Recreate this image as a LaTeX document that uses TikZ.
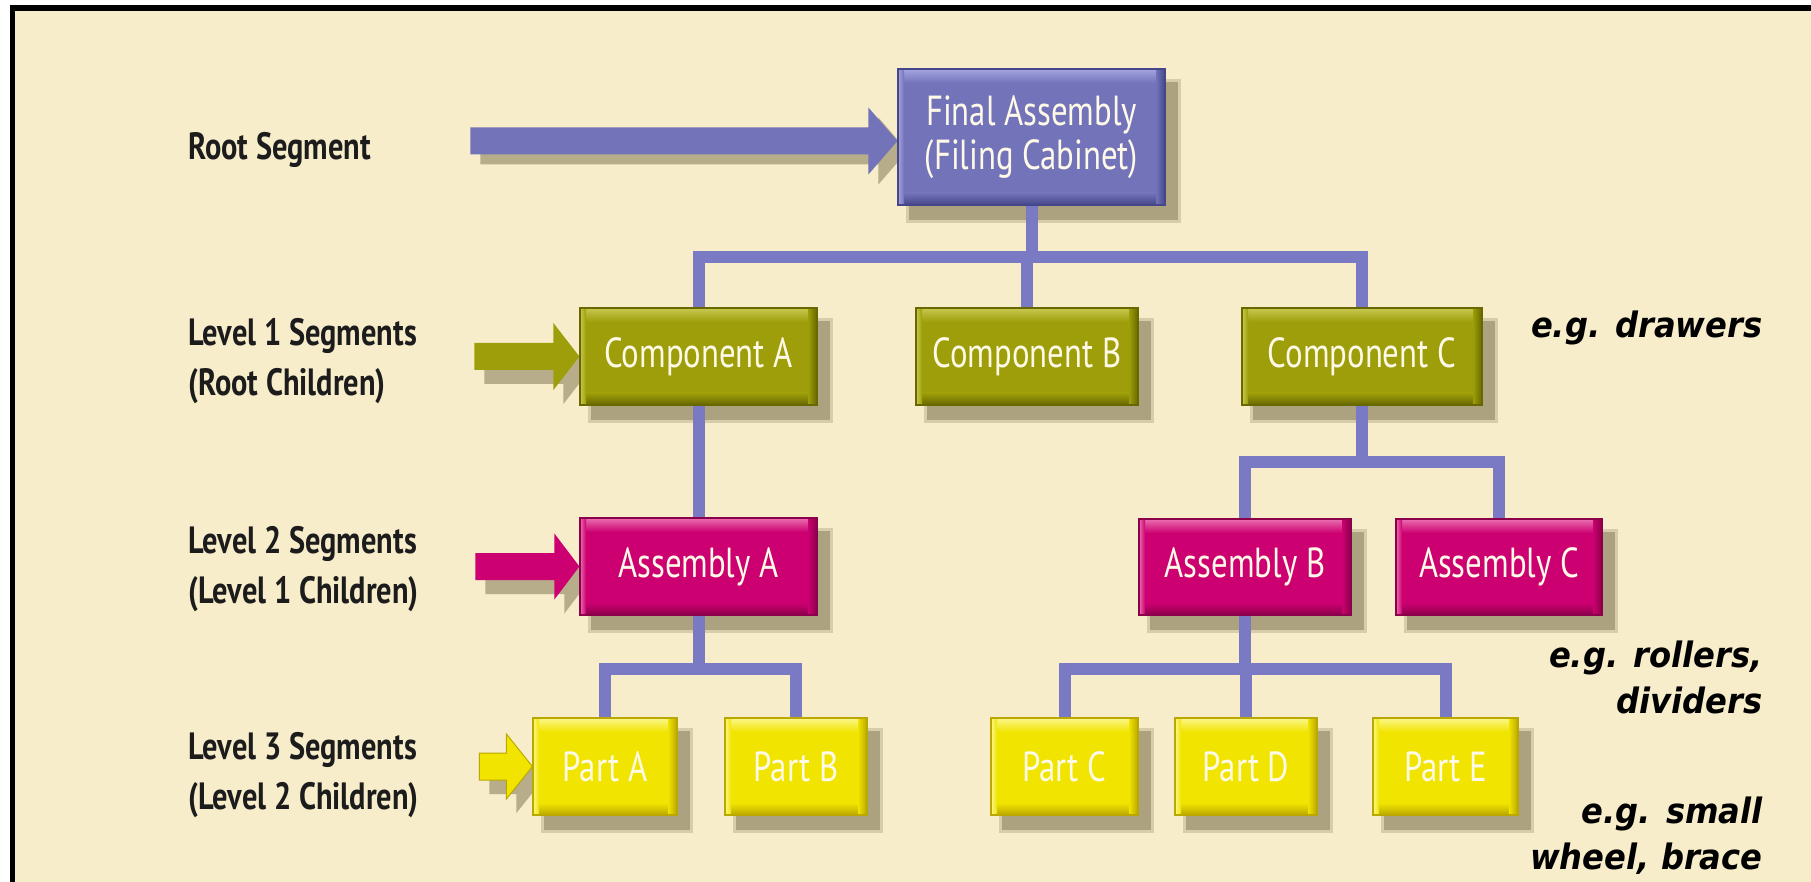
\documentclass[tikz,border=0pt]{standalone}
\usepackage{fontspec}
\usetikzlibrary{calc}
\newfontfamily\boxfont[FakeStretch=0.78]{PT Sans}
\newfontfamily\lblfont[FakeStretch=0.8]{PT Sans}
\newfontfamily\egfont[FakeStretch=0.92]{DejaVu Sans}

\definecolor{bgcream}{RGB}{247,237,203}
\definecolor{linkblue}{RGB}{122,122,196}
\definecolor{rootbase}{RGB}{115,115,186}
\definecolor{rootlight}{RGB}{165,165,224}
\definecolor{rootdark}{RGB}{70,70,138}
\definecolor{olivebase}{RGB}{158,158,10}
\definecolor{olivelight}{RGB}{200,200,80}
\definecolor{olivedark}{RGB}{104,104,0}
\definecolor{magbase}{RGB}{204,0,112}
\definecolor{maglight}{RGB}{234,110,176}
\definecolor{magdark}{RGB}{138,0,74}
\definecolor{yelbase}{RGB}{240,228,0}
\definecolor{yellight}{RGB}{252,247,140}
\definecolor{yeldark}{RGB}{186,168,0}
\definecolor{shadowcol}{RGB}{168,158,124}
\definecolor{boxtext}{RGB}{255,250,232}
\definecolor{labeltext}{RGB}{28,28,28}

\pgfdeclarelayer{shadow}
\pgfdeclarelayer{conn}
\pgfsetlayers{shadow,conn,main}

% block arrow: #1 style, #2 tip, #3 shaft length, #4 head length, #5 head half-height
\newcommand\blockarrow[5]{%
  \path[#1] #2 -- ++(-#4,-#5) -- ++(0,#5-13.5) -- ++(-#3,0) -- ++(0,27)
    -- ++(#3,0) -- ++(0,#5-13.5) -- cycle;}

\tikzset{
  sz/.style 2 args={minimum width={#1*0.5pt}, minimum height={#2*0.5pt}},
  bevel/.style n args={3}{fill=#1, draw=#3, line width=0.6pt,
    path picture={
      \path (path picture bounding box.north west) coordinate (pp-nw)
            (path picture bounding box.south east) coordinate (pp-se);
      \shade[top color=#2, bottom color=#1] (pp-nw) rectangle ($(pp-nw -| pp-se)+(0,14)$);
      \shade[top color=#1, bottom color=#3] ($(pp-se -| pp-nw)+(0,-12)$) rectangle (pp-se);
      \shade[left color=#1, right color=#3] ($(pp-nw -| pp-se)+(-9,0)$) rectangle (pp-se);
      \shade[left color=#2, right color=#1] (pp-nw) rectangle ($(pp-se -| pp-nw)+(6,0)$);
    }},
  segbox/.style={rectangle, inner sep=0pt, align=center, text=boxtext,
    font=\boxfont\fontsize{21}{22}\selectfont},
  rootbox/.style={segbox, bevel={rootbase}{rootlight}{rootdark}},
  lvlone/.style={segbox, bevel={olivebase}{olivelight}{olivedark}},
  lvltwo/.style={segbox, bevel={magbase}{maglight}{magdark}},
  lvlthree/.style={segbox, bevel={yelbase}{yellight}{yeldark}},
  link/.style={draw=linkblue, line width=6pt, line join=miter},
  lbl/.style={inner sep=0pt, anchor=west, align=left, text=labeltext,
    font=\lblfont\bfseries\fontsize{19}{25}\selectfont},
  eg/.style={inner sep=0pt, anchor=east, align=right, text=black,
    font=\egfont\bfseries\itshape\fontsize{17.5}{23}\selectfont},
  shadowfill/.style={fill=shadowcol},
}

\begin{document}
\begin{tikzpicture}[x=0.5pt,y=-0.5pt]
\useasboundingbox (0,0) rectangle (1811,882);

% page and frame
\begin{pgfonlayer}{shadow}
\fill[white] (0,0) rectangle (1811,882);
\fill[bgcream] (12.5,8) rectangle (1811,882);
\draw[black, line width=2.8pt, line join=miter] (12.5,882) -- (12.5,8) -- (1811,8);
\end{pgfonlayer}

% segment boxes
\node[rootbox, sz={267}{136}] (root) at (1031.5,137) {Final Assembly\\(Filing Cabinet)};

\node[lvlone, sz={237}{97}] (compA) at (698.5,356.5) {Component A};
\node[lvlone, sz={222}{97}] (compB) at (1027,356.5) {Component B};
\node[lvlone, sz={240}{97}] (compC) at (1362,356.5) {Component C};

\node[lvltwo, sz={237}{97}] (asmA) at (698.5,566.5) {Assembly A};
\node[lvltwo, sz={212}{96}] (asmB) at (1245,567) {Assembly B};
\node[lvltwo, sz={206}{96}] (asmC) at (1499,567) {Assembly C};

\node[lvlthree, sz={144}{97}] (partA) at (605,766.5) {Part A};
\node[lvlthree, sz={142}{97}] (partB) at (796,766.5) {Part B};
\node[lvlthree, sz={147}{97}] (partC) at (1064.5,766.5) {Part C};
\node[lvlthree, sz={142}{97}] (partD) at (1246,766.5) {Part D};
\node[lvlthree, sz={145}{97}] (partE) at (1445.5,766.5) {Part E};

% level labels
\node[lbl] (lblroot) at (188,150) {Root Segment};
\node[lbl] (lblone) at (188,361) {Level 1 Segments\\(Root Children)};
\node[lbl] (lbltwo) at (188,569) {Level 2 Segments\\(Level 1 Children)};
\node[lbl] (lblthree) at (188,775) {Level 3 Segments\\(Level 2 Children)};

% examples
\node[eg] (egone) at (1763,328) {e.g. drawers};
\node[eg] (egtwo) at (1763,677) {e.g. rollers,\\dividers};
\node[eg] (egthree) at (1763,836) {e.g. small\\wheel, brace};

% bus heights
\coordinate (busone) at (0,257);
\coordinate (bustwo) at (0,462);
\coordinate (busthree) at (0,669);

% connectors
\begin{pgfonlayer}{conn}
\draw[link] (root.south) -- (root.south |- busone);
\draw[link] (compA.north) -- (compA.north |- busone) -- (compC.north |- busone) -- (compC.north);
\draw[link] (compB.north) -- (compB.north |- busone);

\draw[link] (compA.south) -- (asmA.north);
\draw[link] (compC.south) -- (compC.south |- bustwo);
\draw[link] (asmB.north) -- (asmB.north |- bustwo) -- (asmC.north |- bustwo) -- (asmC.north);

\draw[link] (asmA.south) -- (asmA.south |- busthree);
\draw[link] (partA.north) -- (partA.north |- busthree) -- (partB.north |- busthree) -- (partB.north);
\draw[link] (asmB.south) -- (asmB.south |- busthree);
\draw[link] (partC.north) -- (partC.north |- busthree) -- (partE.north |- busthree) -- (partE.north);
\draw[link] (partD.north) -- (partD.north |- busthree);

% block arrows pointing at each level
\blockarrow{fill=rootbase}{([yshift=-2pt]root.west)}{398}{29}{33.5}
\blockarrow{fill=olivebase}{(compA.west)}{79}{26}{33.5}
\blockarrow{fill=magbase}{(asmA.west)}{79}{25}{33}
\blockarrow{fill=yelbase, draw=yeldark, line width=0.5pt}{(partA.west)}{27}{26}{32.5}
\end{pgfonlayer}

% drop shadows
\begin{pgfonlayer}{shadow}
\foreach \n in {root,compA,compB,compC,asmA,asmB,asmC,partA,partB,partC,partD,partE}{
  \fill[shadowcol, opacity=0.4] ([shift={(9,11)}]\n.north west) rectangle ([shift={(15,17)}]\n.south east);
  \fill[shadowcol, opacity=0.9] ([shift={(12,14)}]\n.north west) rectangle ([shift={(12,14)}]\n.south east);
}
\blockarrow{shadowfill, opacity=0.8}{([shift={(10,14)}]root.west)}{398}{29}{33.5}
\blockarrow{shadowfill, opacity=0.8}{([shift={(10,14)}]compA.west)}{79}{26}{33.5}
\blockarrow{shadowfill, opacity=0.8}{([shift={(10,14)}]asmA.west)}{79}{25}{33}
\blockarrow{shadowfill, opacity=0.8}{([shift={(10,14)}]partA.west)}{27}{26}{32.5}
\end{pgfonlayer}
\end{tikzpicture}
\end{document}
